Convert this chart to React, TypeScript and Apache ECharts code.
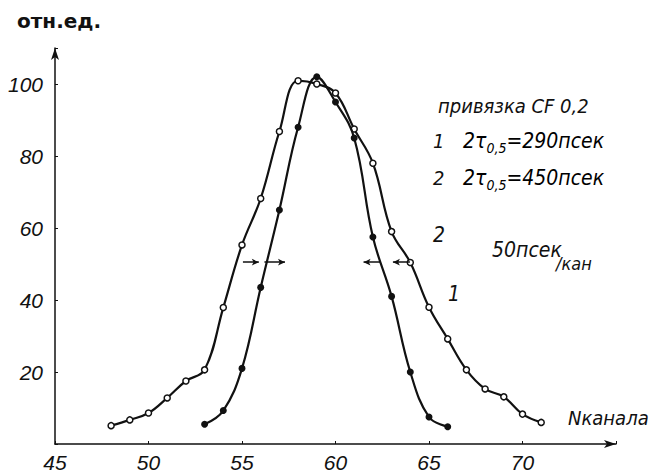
import React, { useEffect, useRef } from "react";
import * as echarts from "echarts";

// Curve 1 (filled dots, narrow) – channel numbers and relative counts
const curve1Channels = [53, 54, 55, 56, 57, 58, 59, 60, 61, 62, 63, 64, 65, 66];
const curve1Values = [5.5, 9.3, 21, 43.5, 65, 88, 102, 95, 85, 57.5, 41, 20, 7.5, 4.8];

// Curve 2 (open circles, wide)
const curve2Channels = [48, 49, 50, 51, 52, 53, 54, 55, 56, 57, 58, 59, 60, 61, 62, 63, 64, 65, 66, 67, 68, 69, 70, 71];
const curve2Values = [5.1, 6.7, 8.6, 12.8, 17.5, 20.6, 37.9, 55.3, 68.2, 86.8, 100.9, 100, 97.5, 87.5, 78, 59, 50.4, 38, 29.2, 20.6, 15.3, 13.1, 8.3, 6.0];

// Half-width markers: [fromChannel, toChannel, level]
const halfWidthMarks: [number, number, number][] = [
  [55.05, 55.9, 50.5],
  [56.2, 57.3, 50.5],
  [62.38, 61.5, 50.5],
  [63.98, 63.07, 50.5],
];

const xTicks = [45, 50, 55, 60, 65, 70];
const yTicks = [20, 40, 60, 80, 100];

const FONT = "'DejaVu Sans Condensed', 'DejaVu Sans', sans-serif";
const TICKFONT = "'Liberation Sans', Arial, sans-serif";
const INK = "#111";

export default function App() {
  const ref = useRef<HTMLDivElement>(null);
  useEffect(() => {
    if (!ref.current) return;
    const chart = echarts.init(ref.current, undefined, { renderer: "svg" });
    const c1 = curve1Channels.map((x, i) => [x, curve1Values[i]]);
    const c2 = curve2Channels.map((x, i) => [x, curve2Values[i]]);
    const txt = (x: number, y: number, text: string, size: number, extra: any = {}) => ({
      type: "text",
      x,
      y,
      style: {
        text,
        fontSize: size,
        fontFamily: FONT,
        fontStyle: "italic",
        fill: INK,
        verticalAlign: "middle",
        ...extra,
      },
    });
    const richStyle = {
      m: { fontSize: 21, lineHeight: 28, fontFamily: FONT, fontStyle: "italic", color: INK },
      s: { fontSize: 14, lineHeight: 13, fontFamily: FONT, fontStyle: "italic", color: INK, verticalAlign: "bottom" },
    };
    const option: any = {
      animation: false,
      backgroundColor: "#fff",
      grid: { left: 55, right: 39, top: 48, bottom: 32, containLabel: false },
      xAxis: {
        type: "value",
        min: 45,
        max: 75,
        interval: 5,
        axisLine: {
          show: true,
          lineStyle: { color: INK, width: 1.5 },
          symbol: ["none", "arrow"],
          symbolSize: [6, 12],
        },
        axisTick: { show: true, inside: true, length: 3, lineStyle: { color: INK } },
        axisLabel: {
          formatter: (v: number) => (xTicks.includes(v) ? String(v) : ""),
          fontSize: 21,
          fontStyle: "italic",
          fontFamily: TICKFONT,
          color: INK,
          margin: 8,
        },
        splitLine: { show: false },
      },
      yAxis: {
        type: "value",
        min: 0,
        max: 110,
        interval: 20,
        axisLine: {
          show: true,
          lineStyle: { color: INK, width: 1.5 },
          symbol: ["none", "arrow"],
          symbolSize: [6, 12],
        },
        axisTick: { show: true, inside: true, length: 3, lineStyle: { color: INK } },
        axisLabel: {
          formatter: (v: number) => (yTicks.includes(v) ? String(v) : ""),
          fontSize: 21,
          fontStyle: "italic",
          fontFamily: TICKFONT,
          color: INK,
          margin: 12,
        },
        splitLine: { show: false },
      },
      series: [
        {
          type: "line",
          data: c2,
          smooth: 0.4,
          symbol: "circle",
          symbolSize: 6,
          itemStyle: { color: "#fff", borderColor: INK, borderWidth: 1.5 },
          lineStyle: { color: INK, width: 2.2 },
          z: 2,
        },
        {
          type: "line",
          data: c1,
          smooth: 0.4,
          symbol: "circle",
          symbolSize: 7,
          itemStyle: { color: INK },
          lineStyle: { color: INK, width: 2.2 },
          z: 3,
          markLine: {
            silent: true,
            symbol: ["none", "arrow"],
            symbolSize: [5, 7],
            label: { show: false },
            lineStyle: { color: INK, width: 1.5, type: "solid" },
            data: halfWidthMarks.map(([a, b, y]) => [{ coord: [a, y] }, { coord: [b, y] }]),
          },
        },
      ],
      graphic: [
        {
          type: "text",
          x: 17,
          y: 21,
          style: {
            text: "отн.ед.",
            fontSize: 20,
            fontWeight: "bold",
            fontFamily: "'DejaVu Sans', sans-serif",
            fill: INK,
            verticalAlign: "middle",
          },
        },
        txt(438, 106, "привязка CF 0,2", 20),
        txt(433, 141, "1", 20),
        {
          type: "text",
          x: 463,
          y: 141,
          style: { text: "{m|2τ}{s|0,5}{m|=290псек}", rich: richStyle, verticalAlign: "middle" },
        },
        txt(433, 178, "2", 20),
        {
          type: "text",
          x: 463,
          y: 178,
          style: { text: "{m|2τ}{s|0,5}{m|=450псек}", rich: richStyle, verticalAlign: "middle" },
        },
        txt(433, 235, "2", 21),
        txt(448, 294, "1", 21),
        txt(492, 250, "50псек", 21),
        txt(556, 263, "/кан", 18),
        txt(568, 418, "Nканала", 20),
      ],
    };
    chart.setOption(option);
    return () => chart.dispose();
  }, []);
  return (
    <div
      ref={ref}
      style={{ position: "fixed", left: 0, top: 0, width: 655, height: 476, background: "#fff" }}
    />
  );
}
